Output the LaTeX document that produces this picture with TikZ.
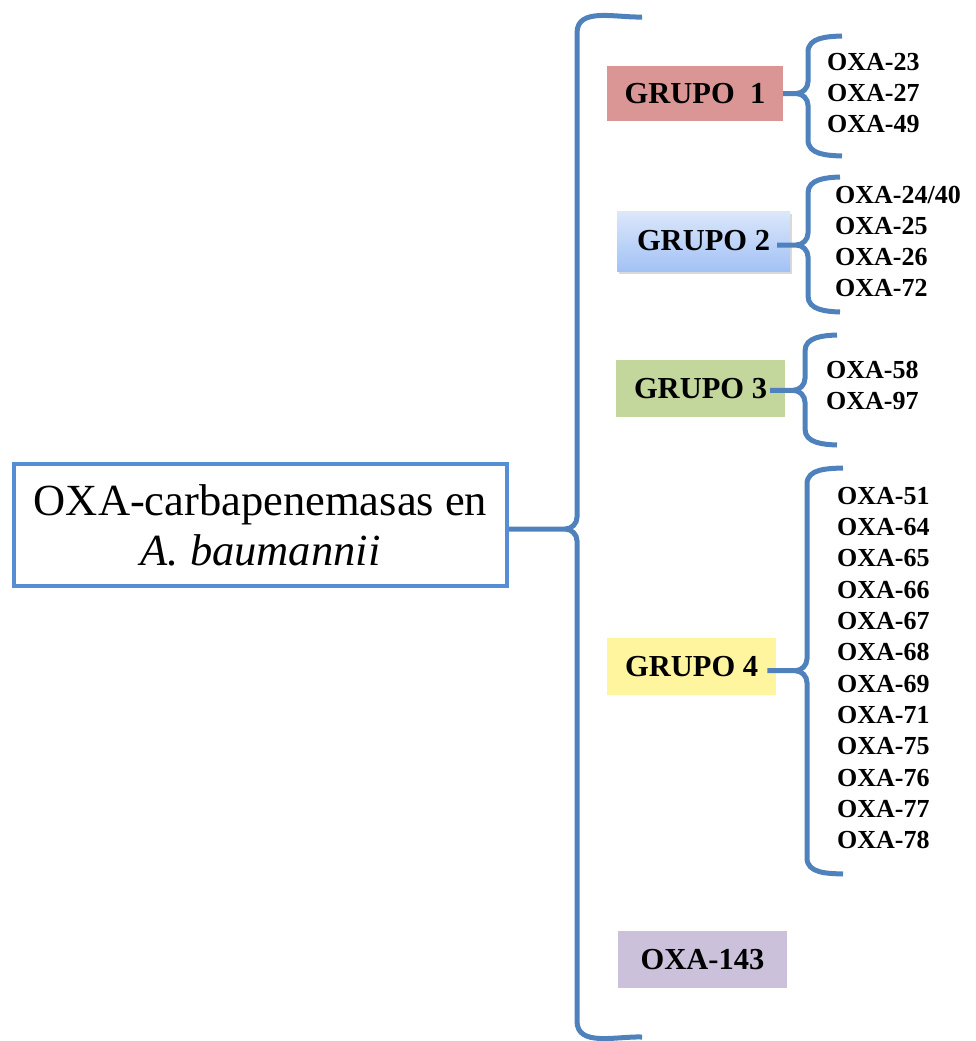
\documentclass[tikz,border=0pt]{standalone}
\usepackage{fontspec}
\setmainfont{Liberation Serif}
\usetikzlibrary{calc,shadows}
\definecolor{Brace}{HTML}{4F81BD}
\definecolor{Frame}{HTML}{558ED5}
\definecolor{GrpRed}{HTML}{D99694}
\definecolor{GrpBlueTop}{HTML}{DCE7FB}
\definecolor{GrpBlueBot}{HTML}{A2C2F5}
\definecolor{GrpGreen}{HTML}{C3D69B}
\definecolor{GrpYellow}{HTML}{FFF59F}
\definecolor{GrpLilac}{HTML}{CCC1DA}
\tikzset{
  mainbox/.style={draw=Frame,fill=white,line width=4pt,minimum width=493pt,minimum height=122pt,align=center,font=\fontsize{44.5}{50}\selectfont},
  grp/.style={minimum width=170pt,minimum height=57pt,inner sep=0pt,font=\fontsize{30.5}{36}\selectfont\bfseries},
  items/.style={anchor=west,align=left,inner sep=0pt,font=\fontsize{26}{31.3}\selectfont\bfseries},
  brace/.style={draw=Brace,line width=5pt}
}
\begin{document}
\begin{tikzpicture}[x=1pt,y=-1pt]
  \useasboundingbox (0,0) rectangle (976,1041);
  \node[mainbox] (main) at (260.5,525) {OXA-carbapenemasas en\\\textit{A. baumannii}};
  % the four groups and OXA-143
  \node[grp,fill=GrpRed,minimum width=176pt,minimum height=55pt] (g1) at (695,93.5) {GRUPO\ \ 1};
  \node[grp,top color=GrpBlueTop,bottom color=GrpBlueBot,minimum width=173pt,minimum height=60pt,
        drop shadow={shadow xshift=2pt,shadow yshift=-3pt,opacity=.3}] (g2) at (703.5,241) {GRUPO 2};
  \node[grp,fill=GrpGreen,minimum width=169pt] (g3) at (700.5,388.3) {GRUPO 3};
  \node[grp,fill=GrpYellow,minimum width=169pt] (g4) at (691.7,666.7) {GRUPO 4};
  \node[grp,fill=GrpLilac,minimum width=169pt] (g5) at (702.5,959.3) {OXA-143};
  % members
  \node[items] (l1) at (827,93) {OXA-23\\OXA-27\\OXA-49};
  \node[items] (l2) at (835,241.5) {OXA-24/40\\OXA-25\\OXA-26\\OXA-72};
  \node[items] (l3) at (826,385.5) {OXA-58\\OXA-97};
  \node[items] (l4) at (837,668) {OXA-51\\OXA-64\\OXA-65\\OXA-66\\OXA-67\\OXA-68\\OXA-69\\OXA-71\\OXA-75\\OXA-76\\OXA-77\\OXA-78};
  % brace ends, spines and tips
  \coordinate (top0) at (642,17);  \coordinate (bot0) at (642,1037); \coordinate (sp0) at (577,0);
  \coordinate (top1) at (842,36);  \coordinate (bot1) at (842,156);  \coordinate (sp1) at (808,0);
  \coordinate (top2) at (840,177); \coordinate (bot2) at (840,312);  \coordinate (sp2) at (808,0);
  \coordinate (top3) at (837,335); \coordinate (bot3) at (837,445);  \coordinate (sp3) at (805,0);
  \coordinate (top4) at (843,468); \coordinate (bot4) at (843,874);  \coordinate (sp4) at (807,0);
  \coordinate (tip0) at ($(main.east)+(0,4)$);
  \coordinate (tip1) at (g1.east);
  \coordinate (tip2) at ($(g2.east)+(-13,4)$);
  \coordinate (tip3) at ($(g3.east)+(-15,2)$);
  \coordinate (tip4) at ($(g4.east)+(-9,4)$);
  \foreach \i in {0,...,4}
    \draw[brace] (top\i) to[out=182,in=90] ($(top\i -| sp\i)+(0,16)$)
        -- ($(tip\i -| sp\i)+(0,-12)$) to[out=-90,in=0] ($(tip\i -| sp\i)+(-12,0)$) -- (tip\i)
      (tip\i) -- ($(tip\i -| sp\i)+(-12,0)$) to[out=0,in=90] ($(tip\i -| sp\i)+(0,12)$)
        -- ($(bot\i -| sp\i)+(0,-16)$) to[out=-90,in=178] (bot\i);
\end{tikzpicture}
\end{document}
